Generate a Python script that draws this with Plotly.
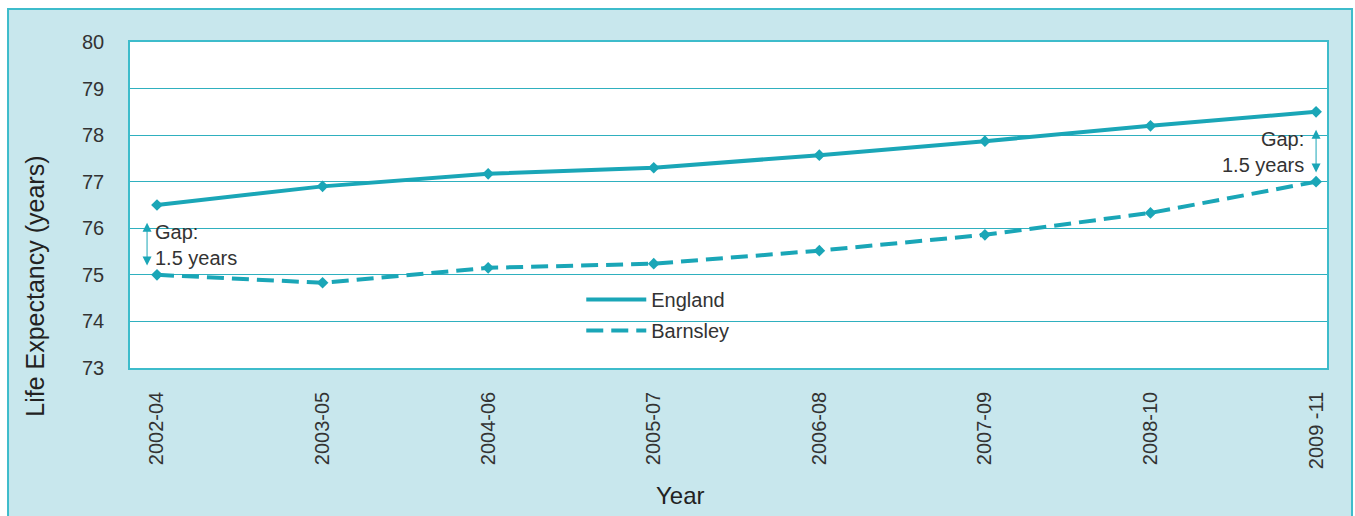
import plotly.graph_objects as go

# Three-year rolling periods and life expectancy (years)
periods = ["2002-04", "2003-05", "2004-06", "2005-07", "2006-08", "2007-09", "2008-10", "2009 -11"]
england = [76.5, 76.9, 77.17, 77.3, 77.57, 77.87, 78.2, 78.5]
barnsley = [75.0, 74.83, 75.15, 75.24, 75.52, 75.86, 76.33, 77.0]

TEAL = "#1aa6b7"
GRID = "#2fb0bf"
BORDER = "#3dbccb"
PANEL = "#c8e7ed"
TEXT = "#333333"
FONT = "Liberation Sans, Arial, sans-serif"

xs = list(range(len(periods)))

fig = go.Figure()
series = [("England", england, "solid"), ("Barnsley", barnsley, "17px,8px")]
for name, vals, dash in series:
    # line (shown in the legend)
    fig.add_trace(go.Scatter(
        x=xs, y=vals, name=name, mode="lines",
        line=dict(color=TEAL, width=4, dash=dash),
        legendgroup=name,
    ))
    # diamond markers on each period
    fig.add_trace(go.Scatter(
        x=xs, y=vals, name=name, mode="markers",
        marker=dict(symbol="diamond", size=9, color=TEAL),
        legendgroup=name, showlegend=False,
    ))

# Light blue panel behind the whole chart, white plotting area on top of it
fig.add_shape(type="rect", xref="paper", yref="paper",
              x0=-0.1019, x1=1.0209, y0=-0.5, y1=1.1012,
              fillcolor=PANEL, line=dict(color=BORDER, width=2), layer="below")
fig.add_shape(type="rect", xref="x domain", yref="y domain",
              x0=0, x1=1, y0=0, y1=1,
              fillcolor="white", line=dict(width=0), layer="below")

# Gap annotations with double-headed arrows
first_gap = england[0] - barnsley[0]
last_gap = england[-1] - barnsley[-1]
arrow_style = dict(xref="x", yref="y", axref="x", ayref="y", text="",
                   showarrow=True, arrowhead=2, startarrowhead=2, arrowside="end+start",
                   arrowsize=1.8, startarrowsize=1.8, arrowwidth=1, arrowcolor=TEAL)
fig.add_annotation(x=-0.06, y=barnsley[0] + 0.2, ax=-0.06, ay=england[0] - 0.35, **arrow_style)
fig.add_annotation(x=xs[0], y=(england[0] + barnsley[0]) / 2, xref="x", yref="y",
                   text=f"Gap:<br>{first_gap:.1f} years", showarrow=False,
                   xanchor="left", yanchor="middle", align="left", xshift=-4, yshift=-5,
                   font=dict(size=20, color=TEXT, family=FONT))
fig.add_annotation(x=xs[-1], y=barnsley[-1] + 0.2, ax=xs[-1], ay=england[-1] - 0.35, **arrow_style)
fig.add_annotation(x=xs[-1], y=(england[-1] + barnsley[-1]) / 2, xref="x", yref="y",
                   text=f"Gap:<br>{last_gap:.1f} years", showarrow=False,
                   xanchor="right", yanchor="middle", align="right", xshift=-10, yshift=-5,
                   font=dict(size=20, color=TEXT, family=FONT))

# Axis titles
fig.add_annotation(x=-0.08, y=0.25, xref="paper", yref="paper",
                   text="Life Expectancy (years)", textangle=-90, showarrow=False,
                   xanchor="center", yanchor="middle",
                   font=dict(size=25, color="#222222", family=FONT))
fig.add_annotation(x=0.46, y=-0.39, xref="paper", yref="paper",
                   text="Year", showarrow=False, xanchor="center", yanchor="middle",
                   font=dict(size=24, color="#222222", family=FONT))

fig.update_layout(
    width=1355, height=516,
    margin=dict(l=130, r=28, t=42, b=148),
    paper_bgcolor="white", plot_bgcolor="white",
    font=dict(family=FONT, color=TEXT, size=18),
    showlegend=True,
    legend=dict(x=0.377, y=0.27, xanchor="left", yanchor="top",
                bgcolor="rgba(0,0,0,0)", font=dict(size=20, color=TEXT),
                itemwidth=60, tracegroupgap=2),
    xaxis=dict(
        range=[-0.163, 7.066], tickmode="array", tickvals=xs, ticktext=periods,
        tickangle=-90, showgrid=False, zeroline=False,
        showline=True, mirror=True, linecolor=BORDER, linewidth=1.5,
        ticks="", ticklabelstandoff=14, tickfont=dict(size=20, color=TEXT),
    ),
    yaxis=dict(
        range=[73, 80], dtick=1, showgrid=True, gridcolor=GRID, gridwidth=1,
        zeroline=False, showline=True, mirror=True, linecolor=BORDER, linewidth=1.5,
        ticks="", ticklabelstandoff=20, tickfont=dict(size=20, color=TEXT),
    ),
)

fig.write_html("out.html")
